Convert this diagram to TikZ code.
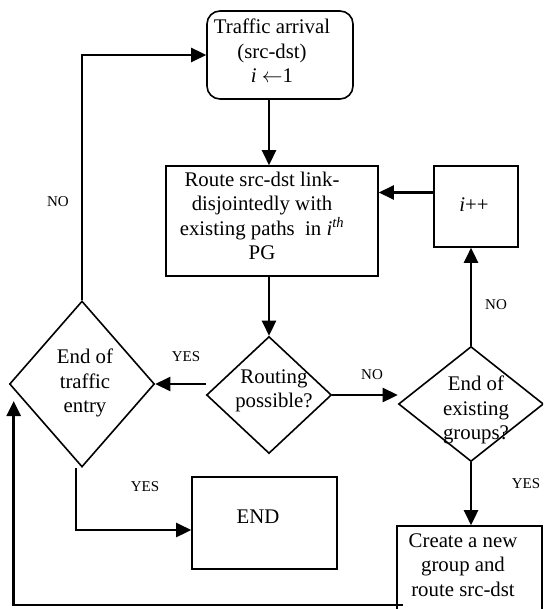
\documentclass[tikz,border=0pt]{standalone}
\usepackage{fontspec}
\setmainfont{Liberation Serif}
\usetikzlibrary{shapes.geometric,arrows.meta}
\begin{document}
\begin{tikzpicture}[x=1pt,y=-1pt,
  box/.style={draw,line width=1.6pt,inner sep=0pt},
  roundbox/.style={box,rounded corners=13pt},
  decision/.style={draw,line width=1.6pt,shape=diamond,inner sep=0pt},
  txt/.style={align=center,inner sep=0pt,font=\fontsize{20.8}{24.5}\selectfont},
  lbl/.style={inner sep=0pt,font=\fontsize{15}{18}\selectfont},
  arr/.style={line width=2.6pt,-{Triangle[length=15pt,width=14pt]}}]
\useasboundingbox (0,0) rectangle (543,609);
\clip (0,0) rectangle (543,609);

% process boxes
\node[roundbox,minimum width=146pt,minimum height=88pt] (arrive) at (280,55) {};
\node[txt] (arrivetxt) at (272,51) {Traffic arrival\\(src-dst)\\\textit{i} \(\leftarrow\)1};

\node[box,minimum width=212pt,minimum height=110pt] (route) at (272,221) {};
\node[txt] (routetxt) at (262,216) {Route src-dst link-\\disjointedly with\\existing paths\ \ in \textit{i}\textsuperscript{\textit{th}}\\PG};

\node[box,minimum width=84pt,minimum height=81pt] (inc) at (476,206.5) {};
\node[txt] (inctxt) at (474,205) {\textit{i}++};

\node[box,minimum width=145pt,minimum height=92pt] (endb) at (264.5,523) {};
\node[txt] (endtxt) at (258,517) {END};

\node[box,minimum width=145pt,minimum height=130pt] (create) at (469.5,591) {};
\node[txt] (createtxt) at (463,565) {Create a new\\group and\\route src-dst};

% decisions
\node[decision,minimum width=125pt,minimum height=117pt] (routing) at (269,395) {};
\node[txt] (routingtxt) at (274,391) {Routing\\possible?};

\node[decision,minimum width=145pt,minimum height=115pt] (groups) at (471,404) {};
\node[txt] (groupstxt) at (476,410) {End of\\existing\\groups?};

\node[decision,minimum width=145pt,minimum height=166pt] (tend) at (82,384) {};
\node[txt] (tendtxt) at (85,383) {End of\\traffic\\entry};

% connectors
\draw[arr] (tend.north) |- (arrive.west);
\draw[arr] (routing.north |- arrive.south) -- (routing.north |- route.north);
\draw[arr] (routing.north |- route.south) -- (routing.north);
\draw[arr] (routing.west |- tend.east) -- (tend.east);
\draw[arr] (routing.east) -- (groups.west |- routing.east);
\draw[arr] (groups.north) -- (groups.north |- inc.south);
\draw[arr] ([yshift=14pt]inc.west) -- ([yshift=14pt]inc.west -| route.east);
\draw[arr] (groups.south) -- (groups.south |- create.north);
\draw[arr] ([xshift=-6pt]tend.south) |- ([yshift=-7pt]endb.west);
\coordinate (back) at (403,605);
\draw[arr] (back) -| ([xshift=5pt,yshift=-17pt]tend.west);

% branch labels
\node[lbl] (no1) at (58,202) {NO};
\node[lbl] (yes1) at (186,357) {YES};
\node[lbl] (no2) at (372,375) {NO};
\node[lbl] (no3) at (496,305) {NO};
\node[lbl] (yes2) at (145,487) {YES};
\node[lbl] (yes3) at (526,484) {YES};
\end{tikzpicture}
\end{document}
